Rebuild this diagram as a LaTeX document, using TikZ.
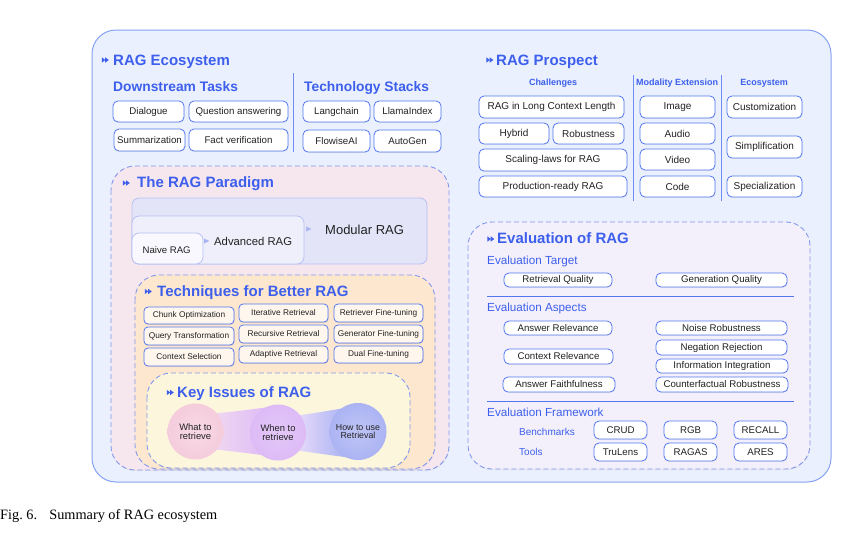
\documentclass[tikz,border=0pt]{standalone}
\usepackage{fontspec}
\setmainfont{Liberation Sans}
\newfontfamily\capfont{Liberation Serif}
\usetikzlibrary{shadows}
\newcommand\fsz[1]{\fontsize{#1}{#1}\selectfont}
\definecolor{tblue}{HTML}{3D5FEC}
\definecolor{bblue}{HTML}{5377F0}
\definecolor{outf}{HTML}{EAF0FD}
\definecolor{outd}{HTML}{86A2F4}
\definecolor{dashc}{HTML}{8499EC}
\definecolor{pinkf}{HTML}{F6E7EF}
\definecolor{peachf}{HTML}{FDE8CF}
\definecolor{yelf}{HTML}{FCF6DD}
\definecolor{evalf}{HTML}{F3F0FC}
\definecolor{modf}{HTML}{E3E4F8}
\definecolor{modd}{HTML}{B8C0F2}
\definecolor{advf}{HTML}{EEEFFB}
\definecolor{naif}{HTML}{F8F8FE}
\definecolor{txt}{HTML}{222222}
\definecolor{cA}{HTML}{F5CCDC}
\definecolor{cB}{HTML}{DDBAF6}
\definecolor{cC}{HTML}{ABB3F3}
\definecolor{divc}{HTML}{6E8CF2}
\definecolor{arrc}{HTML}{A9B6F2}
\definecolor{techf}{HTML}{FFF7EE}
\tikzset{
  tbox/.style={draw=bblue, line width=0.8pt, fill=white, rounded corners=5pt, inner sep=0pt,
    align=center, text=txt, font=\fsz{9.7},
    drop shadow={opacity=0.12, shadow xshift=0.5pt, shadow yshift=-0.9pt}},
  techbox/.style={tbox, fill=techf, font=\fsz{8.3}, rounded corners=4pt},
  ttl/.style={anchor=base west, inner sep=0pt, text=tblue, font=\bfseries\fsz{15}},
  sub/.style={anchor=base west, inner sep=0pt, text=tblue, font=\bfseries\fsz{13.8}},
  colh/.style={anchor=base, inner sep=0pt, text=tblue, font=\bfseries\fsz{9}},
  evh/.style={anchor=base west, inner sep=0pt, text=tblue, font=\fsz{11.7}},
  evs/.style={anchor=base west, inner sep=0pt, text=tblue, font=\fsz{10}},
  dashbox/.style={draw=dashc, line width=0.9pt, dash pattern=on 5pt off 3pt, rounded corners=24pt,
    drop shadow={opacity=0.10, shadow xshift=0.4pt, shadow yshift=-1.2pt}},
  dbl/.pic={\fill[tblue] (-4.2,-2.7)--(-0.6,0)--(-4.2,2.7)--cycle;
            \fill[tblue] (-0.8,-2.7)--(2.8,0)--(-0.8,2.7)--cycle;},
  divl/.style={draw=divc, line width=1pt},
  circ/.style={circle, inner sep=0pt, minimum size=56pt, align=center, text=txt, font=\fsz{9.4}}
}
\newcommand\bx[7][]{\node[tbox,#1, minimum width={(#4-#2)*1pt}, minimum height={(#5-#3)*1pt}] (#6) at ({(#2+#4)/2},{(#3+#5)/2}) {#7};}
\begin{document}
\begin{tikzpicture}[x=1pt,y=-1pt]
\useasboundingbox (0,0) rectangle (850,536);
\fill[white] (0,0) rectangle (850,536);
% outer ecosystem box
\draw[draw=outd, fill=outf, line width=1pt, rounded corners=24pt] (92,30) rectangle (831,482);
\pic at (106,60) {dbl};
\node[ttl] (teco) at (113,65) {RAG Ecosystem};
\node[sub] (tdown) at (113,91) {Downstream Tasks};
\node[sub] (ttech) at (304,91) {Technology Stacks};
\draw[divl] (293,73) -- (293,152);
\bx{113}{101}{184}{122}{dia}{Dialogue}
\bx{189}{101}{288}{122}{qa}{Question answering}
\bx{114}{129}{185}{151}{sum}{Summarization}
\bx{189}{129}{288}{151}{fv}{Fact verification}
\bx{303}{101}{370}{122}{lc}{Langchain}
\bx{374}{101}{441}{122}{li}{LlamaIndex}
\bx{303}{130}{370}{152}{fw}{FlowiseAI}
\bx{374}{130}{441}{152}{ag}{AutoGen}
% prospect
\pic at (490.5,60) {dbl};
\node[ttl] (tpro) at (496,65) {RAG Prospect};
\node[colh] (hch) at (553,85.5) {Challenges};
\node[colh] (hmod) at (677,85.5) {Modality Extension};
\node[colh] (heco) at (764,85.5) {Ecosystem};
\draw[divl] (633,75) -- (633,201);
\draw[divl] (721,75) -- (721,201);
\bx[font=\fsz{10}]{479}{96}{624}{118}{lcl}{RAG in Long Context Length}
\bx[font=\fsz{10}]{479}{123}{549}{144}{hyb}{Hybrid}
\bx[font=\fsz{10}]{553}{123}{624}{144}{rob}{Robustness}
\bx[font=\fsz{10}]{479}{149}{627}{171}{scl}{Scaling-laws for RAG}
\bx[font=\fsz{10}]{479}{176}{627}{197}{prd}{Production-ready RAG}
\bx[font=\fsz{10}]{640}{96}{715}{118}{img}{Image}
\bx[font=\fsz{10}]{640}{123}{715}{144}{aud}{Audio}
\bx[font=\fsz{10}]{640}{149}{715}{170}{vid}{Video}
\bx[font=\fsz{10}]{640}{176}{715}{197}{cod}{Code}
\bx[font=\fsz{10}]{727}{96}{802}{118}{cus}{Customization}
\bx[font=\fsz{10}]{727}{136}{802}{158}{smp}{Simplification}
\bx[font=\fsz{10}]{727}{176}{802}{197}{spc}{Specialization}
% paradigm
\draw[dashbox, fill=pinkf] (111,166) rectangle (449,470);
\pic at (127,183) {dbl};
\node[ttl] (tpar) at (137,187.5) {The RAG Paradigm};
\node[draw=modd, fill=modf, line width=0.8pt, rounded corners=7pt, inner sep=0pt,
  minimum width=295pt, minimum height=66pt] (modb) at (279.5,231) {};
\node[draw=modd, fill=advf, line width=0.8pt, rounded corners=7pt, inner sep=0pt,
  minimum width=172pt, minimum height=48pt] (advb) at (218,240) {};
\node[draw=modd, fill=naif, line width=0.8pt, rounded corners=7pt, inner sep=0pt,
  minimum width=71pt, minimum height=31pt] (naib) at (167.5,248.5) {};
\fill[arrc] (204,238.5) -- (209.5,241) -- (204,243.5) -- cycle;
\fill[arrc] (306,226.5) -- (311.5,229) -- (306,231.5) -- cycle;
\node[anchor=base west, inner sep=0pt, text=txt, font=\fsz{13}] (tmod) at (325,234) {Modular RAG};
\node[anchor=base west, inner sep=0pt, text=txt, font=\fsz{11.3}] (tadv) at (214,245.3) {Advanced RAG};
\node[anchor=base west, inner sep=0pt, text=txt, font=\fsz{9.6}] (tnai) at (142.5,253) {Naive RAG};
% techniques
\draw[dashbox, fill=peachf] (135,275) rectangle (435,469);
\pic at (149,291.5) {dbl};
\node[ttl] (ttec) at (157,296) {Techniques for Better RAG};
\bx[techbox]{144}{307}{234}{324}{t11}{Chunk Optimization}
\bx[techbox]{144}{327}{234}{345}{t12}{Query Transformation}
\bx[techbox]{144}{348}{234}{366}{t13}{Context Selection}
\bx[techbox]{239}{304}{328}{322}{t21}{Iterative Retrieval}
\bx[techbox]{239}{325}{328}{343}{t22}{Recursive Retrieval}
\bx[techbox]{239}{346}{328}{363}{t23}{Adaptive Retrieval}
\bx[techbox]{334}{304}{423}{322}{t31}{Retriever Fine-tuning}
\bx[techbox]{334}{325}{423}{343}{t32}{Generator Fine-tuning}
\bx[techbox]{334}{346}{423}{363}{t33}{Dual Fine-tuning}
% key issues
\draw[dashbox, fill=yelf] (147,373) rectangle (410,468);
\pic at (171,392.5) {dbl};
\node[ttl] (tkey) at (177,397) {Key Issues of RAG};
\shade[left color=cA!60!cB!60!white, right color=cB]
  (205,414) .. controls (225,413) and (245,410) .. (270,407)
  -- (270,456) .. controls (245,453) and (225,450) .. (205,449) -- cycle;
\shade[left color=cB!45!white, right color=cC]
  (290,416) .. controls (305,415) and (320,412) .. (345,408)
  -- (345,457) .. controls (320,454) and (305,451) .. (290,450) -- cycle;
\node[circ, inner color=cA!75!white, outer color=cA] (k1) at (195.5,431.5) {What to\\retrieve};
\node[circ, inner color=cB!80!white, outer color=cB] (k2) at (278,432.5) {When to\\retrieve};
\node[circ, inner color=cC!75!white, outer color=cC, font=\fsz{8.8}, minimum size=57pt] (k3) at (358,431.5) {How to use\\Retrieval};
% evaluation
\draw[dashbox, fill=evalf] (468,222) rectangle (810,469);
\pic at (491.5,239) {dbl};
\node[ttl] (tev) at (497,243.3) {Evaluation of RAG};
\node[evh] (etg) at (487,264.3) {Evaluation Target};
\bx{504}{273}{612}{287}{rq}{Retrieval Quality}
\bx{656}{273}{787}{287}{gq}{Generation Quality}
\draw[draw=bblue, line width=0.9pt] (487,296) -- (794,296);
\node[evh] (eas) at (487,311) {Evaluation Aspects};
\bx{504}{321}{612}{335}{ar}{Answer Relevance}
\bx{504}{349}{613}{364}{cr}{Context Relevance}
\bx{503}{377}{615}{392}{af}{Answer Faithfulness}
\bx{656}{321}{787}{335}{nr}{Noise Robustness}
\bx{656}{340}{787}{355}{ng}{Negation Rejection}
\bx{656}{359}{788}{373}{ii}{Information Integration}
\bx{656}{377}{788}{392}{cfr}{Counterfactual Robustness}
\draw[draw=bblue, line width=0.9pt] (487,401) -- (794,401);
\node[evh] (efw) at (487,416.3) {Evaluation Framework};
\node[evs] (ebm) at (519,435.7) {Benchmarks};
\node[evs] (etl) at (519,455.7) {Tools};
\bx{594}{421}{647}{439}{crud}{CRUD}
\bx{664}{421}{717}{439}{rgb}{RGB}
\bx{734}{421}{787}{439}{rec}{RECALL}
\bx{594}{443}{647}{461}{trl}{TruLens}
\bx{664}{443}{717}{461}{rgs}{RAGAS}
\bx{734}{443}{787}{461}{ares}{ARES}
% caption
\node[anchor=base west, inner sep=0pt, font=\capfont\fsz{14.3}] (cap) at (0,519) {Fig.~6.\hspace{0.85em}Summary of RAG ecosystem};
\end{tikzpicture}
\end{document}
